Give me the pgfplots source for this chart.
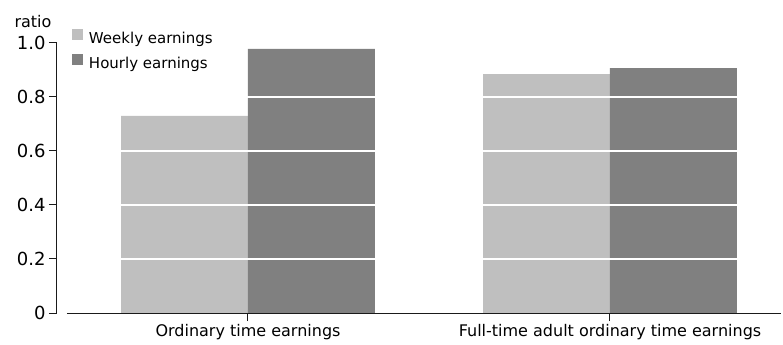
\documentclass[border=0pt]{standalone}
\usepackage{fontspec}
\setmainfont{DejaVu Sans}
\usepackage{pgfplots}
\pgfplotsset{compat=1.18}
\definecolor{weekly}{HTML}{BFBFBF}
\definecolor{hourly}{HTML}{808080}
\definecolor{axisdark}{HTML}{1A1A1A}

\begin{document}
\begin{tikzpicture}
\useasboundingbox (-57bp,-32bp) rectangle (726bp,313bp);
\begin{axis}[
  at={(0,0)}, anchor=south west,
  scale only axis, width=724bp, height=270bp,
  xmin=-0.5276, xmax=1.4724, ymin=0, ymax=1,
  axis x line=bottom, axis y line=left,
  x axis line style={draw=none},
  y axis line style={axisdark, line width=1bp, -},
  xtick={0,1},
  xticklabels={Ordinary time earnings, Full-time adult ordinary time earnings},
  ytick={0,0.2,0.4,0.6,0.8,1},
  yticklabels={0,0.2,0.4,0.6,0.8,1.0},
  tick align=outside, major tick length=8bp,
  tick style={axisdark, line width=1bp},
  xticklabel style={font=\fontsize{16bp}{19bp}\selectfont, text=black},
  yticklabel style={font=\fontsize{18bp}{21bp}\selectfont, text=black},
  /pgf/number format/assume math mode=true,
  ybar, bar width=0.3508,
  clip=false,
  legend cell align=left,
  legend image code/.code={\fill[#1] (0bp,0bp) rectangle (11bp,11bp);},
  legend style={at={(axis description cs:0.0207,1.0519)}, anchor=north west,
    draw=none, fill=none, inner sep=0pt, outer sep=0pt,
    row sep=7bp, column sep=6bp,
    font=\fontsize{15bp}{18bp}\selectfont,
    nodes={inner sep=0pt, text height=11bp, text depth=3bp}},
]
\addplot[fill=weekly, draw=none, bar shift=-0.1754]
  coordinates {(0,0.730) (1,0.885)};
\addlegendentry{Weekly earnings}
\addplot[fill=hourly, draw=none, bar shift=0.1754]
  coordinates {(0,0.978) (1,0.907)};
\addlegendentry{Hourly earnings}
% white reference lines across the bars
\pgfplotsinvokeforeach{0.2,0.4,0.6,0.8}{
  \draw[white, line width=1.2bp] (axis cs:-0.5,#1) -- (axis cs:1.4724,#1);
}
% category axis, detached from the value axis
\draw[axisdark, line width=1bp] (axis cs:-0.5,0) -- (axis cs:1.4724,0);
\end{axis}
\node[anchor=base, font=\fontsize{16bp}{19bp}\selectfont] at (-24bp,285bp) {ratio};
\end{tikzpicture}
\end{document}
